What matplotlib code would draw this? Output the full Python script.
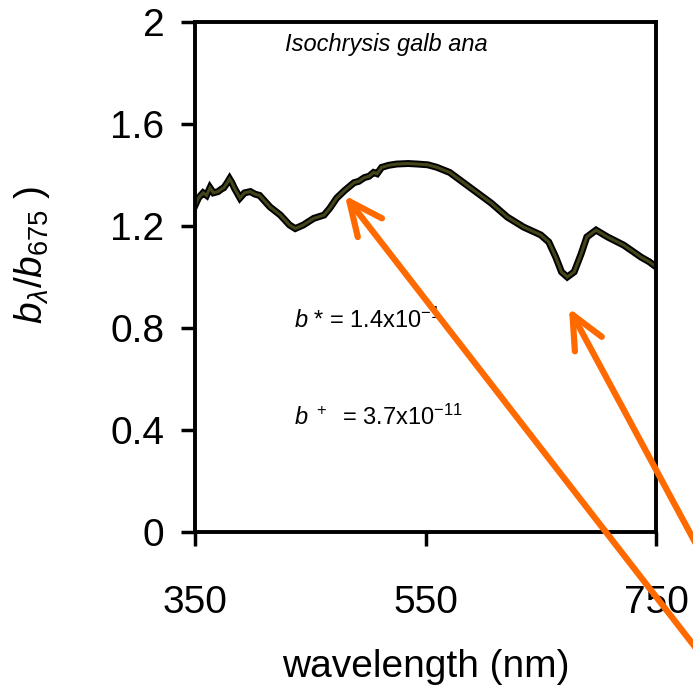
import matplotlib
matplotlib.use("Agg")
import matplotlib.pyplot as plt

plt.rcParams['font.family'] = ['Liberation Sans', 'DejaVu Sans']
plt.rcParams['mathtext.fontset'] = 'custom'
plt.rcParams['mathtext.rm'] = 'Liberation Sans'
plt.rcParams['mathtext.it'] = 'Liberation Sans:italic'

# Scattering spectrum
wavelength = [350, 353, 357, 360, 363, 366, 370, 373, 375, 378, 380, 382, 384, 389,
              393, 398, 402, 406, 410, 415, 424, 432, 437, 444, 453, 462, 467, 473,
              480, 488, 492, 497, 501, 505, 508, 512, 518, 525, 535, 543, 552, 560,
              571, 583, 595, 607, 621, 635, 650, 657, 663, 668, 673, 679, 685, 690,
              698, 708, 722, 730, 737, 744, 750]
ratio = [1.28, 1.31, 1.33, 1.32, 1.35, 1.33, 1.335, 1.345, 1.35, 1.37, 1.385, 1.37,
         1.35, 1.31, 1.33, 1.335, 1.325, 1.32, 1.3, 1.275, 1.243, 1.204, 1.19, 1.204,
         1.23, 1.243, 1.27, 1.31, 1.34, 1.37, 1.375, 1.39, 1.395, 1.41, 1.405, 1.43,
         1.438, 1.443, 1.445, 1.443, 1.44, 1.43, 1.41, 1.37, 1.33, 1.29, 1.235, 1.196,
         1.165, 1.137, 1.078, 1.02, 1.0, 1.02, 1.09, 1.157, 1.184, 1.157, 1.125,
         1.1, 1.078, 1.06, 1.04]

x_ticks = [350, 550, 750]
y_ticks = [0, 0.4, 0.8, 1.2, 1.6, 2.0]
y_labels = ['0', '0.4', '0.8', '1.2', '1.6', '2']

# Arrow tips (data) and tails (figure fraction)
arrow_tips = [(480, 1.32), (674.5, 0.878)]
arrow_tails = [(1.04, 0.02), (1.04, 0.15)]

fig = plt.figure(figsize=(6.93, 6.94), dpi=100)
ax = fig.add_axes([0.2814, 0.2334, 0.6652, 0.7349])

ax.plot(wavelength, ratio, color='black', lw=5, solid_joinstyle='miter')
ax.plot(wavelength, ratio, color='#45451a', lw=2.2, solid_joinstyle='miter')

ax.set_xlim(350, 750)
ax.set_ylim(0, 2)
ax.set_xticks(x_ticks)
ax.set_yticks(y_ticks)
ax.set_yticklabels(y_labels)
ax.tick_params(axis='both', direction='out', length=10, width=2.5, labelsize=28)
ax.tick_params(axis='x', pad=28)
ax.tick_params(axis='y', pad=12)
for s in ax.spines.values():
    s.set_linewidth(2.8)

ax.set_xlabel('wavelength (nm)', fontsize=28, labelpad=20)
ax.set_ylabel(r'$b_{\lambda}/b_{\mathit{675}}$ )', fontsize=28)
ax.yaxis.set_label_coords(-0.31, 0.543)

ax.text(0.195, 0.955, 'Isochrysis galb ana', transform=ax.transAxes,
        fontsize=17, style='italic', va='center', ha='left')
ax.text(0.215, 0.40, r'$b$ * = 1.4x10$^{-1}$', transform=ax.transAxes,
        fontsize=17, va='baseline')
ax.text(0.215, 0.21, r'$b^{\ +}$  = 3.7x10$^{-11}$', transform=ax.transAxes,
        fontsize=17, va='baseline')

for tip, tail in zip(arrow_tips, arrow_tails):
    ax.annotate('', xy=tip, xycoords='data', xytext=tail, textcoords='figure fraction',
                annotation_clip=False,
                arrowprops=dict(arrowstyle='->,head_length=1.2,head_width=0.55',
                                color='#ff6a00', lw=4.5, shrinkA=0, shrinkB=0,
                                mutation_scale=20, capstyle='round',
                                joinstyle='round'))

fig.savefig('out.png', dpi=100)
